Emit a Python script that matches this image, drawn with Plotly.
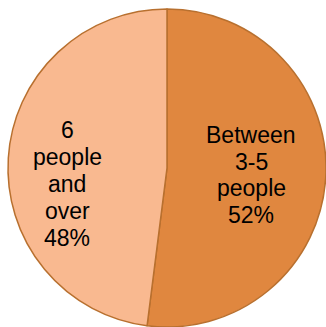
import plotly.graph_objects as go

labels = ["Between 3-5 people", "6 people and over"]
values = [52, 48]
texts = ["Between<br>3-5<br>people<br>52%", "6<br>people<br>and<br>over<br>48%"]
colors = ["#E0873F", "#F9B990"]

W, H = 326, 327
cx, cy, r = 167, 168, 159
FS = 23
# label block centres (px) and line spacing
label_pos = [(251, 175, 26.7), (67, 184, 27.0)]

fig = go.Figure(go.Pie(
    labels=labels, values=values,
    textinfo="none",
    sort=False, direction="clockwise", rotation=0,
    marker=dict(colors=colors, line=dict(color="#B8702F", width=1.5)),
    domain=dict(x=[(cx - r) / W, (cx + r) / W], y=[1 - (cy + r) / H, 1 - (cy - r) / H]),
    hoverinfo="skip",
))

for t, (lx, ly, sp) in zip(texts, label_pos):
    lines = t.split("<br>")
    n = len(lines)
    for i, line in enumerate(lines):
        ypx = ly + (i - (n - 1) / 2) * sp
        fig.add_annotation(x=lx / W, y=1 - ypx / H, xref="paper", yref="paper",
                           text=line, showarrow=False, xanchor="center", yanchor="middle",
                           font=dict(family="Liberation Sans, Arial", size=FS, color="#000000"))

fig.update_layout(width=W, height=H, margin=dict(l=0, r=0, t=0, b=0),
                  showlegend=False, paper_bgcolor="white")
fig.write_html("out.html")
